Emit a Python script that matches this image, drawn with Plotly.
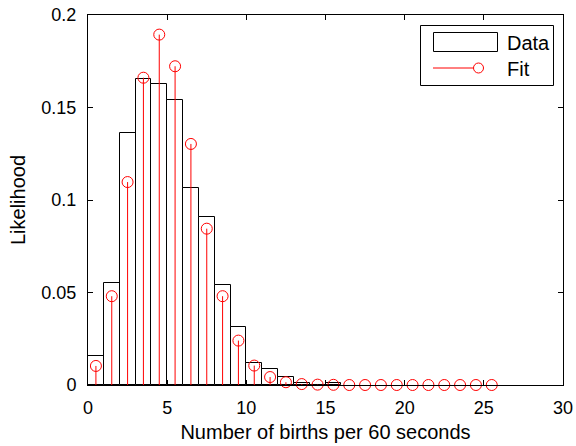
import plotly.graph_objects as go

# Observed histogram: likelihood of k births in a 60 s window (bins of width 1)
bin_left = list(range(0, 16))
data_likelihood = [0.0157, 0.0553, 0.1364, 0.1656, 0.1627, 0.1539, 0.1063, 0.0910,
                   0.0539, 0.0312, 0.0121, 0.0088, 0.0045, 0.0012, 0.0, 0.0010]

# Fitted model evaluated at bin centres
fit_x = [k + 0.5 for k in range(0, 26)]
fit_likelihood = [0.0103, 0.0480, 0.1097, 0.1661, 0.1894, 0.1723, 0.1303, 0.0845,
                  0.0480, 0.0240, 0.0105, 0.0043, 0.0015, 0.0005, 0.0002, 0.0001,
                  0.0, 0.0, 0.0, 0.0, 0.0, 0.0, 0.0, 0.0, 0.0, 0.0]

x_ticks = [0, 5, 10, 15, 20, 25, 30]
y_ticks = [0, 0.05, 0.1, 0.15, 0.2]
y_tick_text = ["0", "0.05", "0.1", "0.15", "0.2"]

W, H = 576, 446
L, R, T, B = 88, 13, 15, 61
FONT = "Liberation Sans, Arial, Helvetica, sans-serif"
RED = "#ff0000"

fig = go.Figure()

fig.add_trace(go.Bar(
    x=[b + 0.5 for b in bin_left], y=data_likelihood, width=1.0,
    marker=dict(color="white", line=dict(color="black", width=1)),
    showlegend=False,
))

# Stem plot: vertical stems drawn as one-sided error bars down to zero
fig.add_trace(go.Scatter(
    x=fit_x, y=fit_likelihood, mode="markers",
    marker=dict(symbol="circle-open", size=11, color=RED, line=dict(color=RED, width=1)),
    error_y=dict(type="data", symmetric=False, array=[0] * len(fit_likelihood),
                 arrayminus=fit_likelihood, width=0, color=RED, thickness=1),
    showlegend=False, cliponaxis=False,
))

axis_common = dict(
    showline=True, linecolor="black", linewidth=1, mirror="ticks",
    ticks="inside", ticklen=5, tickcolor="black", tickwidth=1,
    showgrid=False, zeroline=False, automargin=False,
    tickfont=dict(family=FONT, size=18, color="black"),
)

fig.update_layout(
    width=W, height=H,
    margin=dict(l=L, r=R, t=T, b=B, pad=0, autoexpand=False),
    paper_bgcolor="white", plot_bgcolor="white",
    bargap=0,
    xaxis=dict(range=[0, 30], tickvals=x_ticks, ticklabelstandoff=6,
               title=dict(text="Number of births per 60 seconds",
                          font=dict(family=FONT, size=20, color="black"), standoff=8),
               **axis_common),
    yaxis=dict(range=[0, 0.2], tickvals=y_ticks, ticktext=y_tick_text, ticklabelstandoff=7,
               title=dict(text="Likelihood",
                          font=dict(family=FONT, size=20, color="black"), standoff=10),
               **axis_common),
)


def px(x):
    return (x - L) / (W - L - R)


def py(y):
    return (H - B - y) / (H - T - B)


# Legend box
fig.add_shape(type="rect", xref="paper", yref="paper",
              x0=px(420.5), x1=px(553.5), y0=py(85.5), y1=py(25.5),
              line=dict(color="black", width=1), fillcolor="white", layer="above")
# "Data" swatch
fig.add_shape(type="rect", xref="paper", yref="paper",
              x0=px(433.5), x1=px(497.5), y0=py(51.5), y1=py(32.5),
              line=dict(color="black", width=1), fillcolor="white", layer="above")
# "Fit" swatch: line ending in an open circle
fig.add_shape(type="line", xref="paper", yref="paper",
              x0=px(433), x1=px(473.5), y0=py(68), y1=py(68),
              line=dict(color=RED, width=1), layer="above")
fig.add_shape(type="circle", xref="paper", yref="paper",
              x0=px(473.5), x1=px(483.5), y0=py(73), y1=py(63),
              line=dict(color=RED, width=1), layer="above")

for label, yc in (("Data", 43), ("Fit", 69)):
    fig.add_annotation(text=label, xref="paper", yref="paper",
                       x=px(505), y=py(yc), xanchor="left", yanchor="middle",
                       showarrow=False, font=dict(family=FONT, size=20, color="black"))

fig.write_html("out.html")
